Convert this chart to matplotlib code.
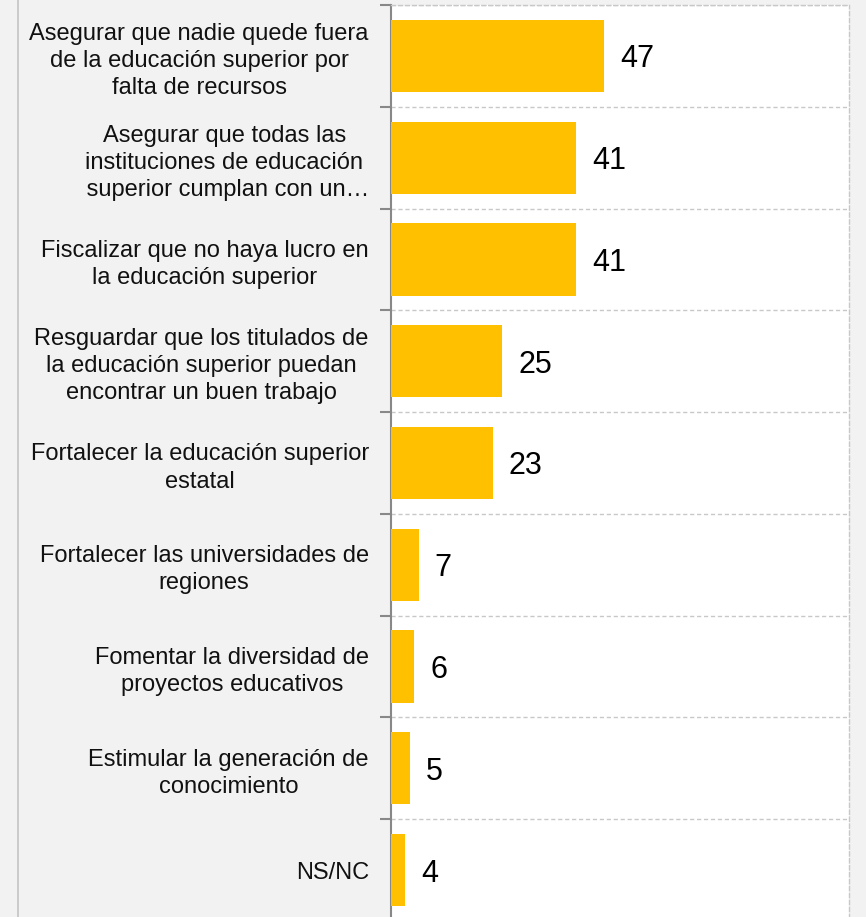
import matplotlib
matplotlib.use("Agg")
import matplotlib.pyplot as plt
from matplotlib.lines import Line2D

categories = [
    "Asegurar que nadie quede fuera\nde la educación superior por\nfalta de recursos",
    "Asegurar que todas las\ninstituciones de educación\n superior cumplan con un…",
    "Fiscalizar que no haya lucro en\nla educación superior",
    "Resguardar que los titulados de\nla educación superior puedan\nencontrar un buen trabajo",
    "Fortalecer la educación superior\nestatal",
    "Fortalecer las universidades de\nregiones",
    "Fomentar la diversidad de\nproyectos educativos",
    "Estimular la generación de\nconocimiento",
    "NS/NC",
]
values = [47, 41, 41, 25, 23, 7, 6, 5, 4]

plt.rcParams['font.family'] = ['Liberation Sans', 'DejaVu Sans']

W, H = 866, 917
fig = plt.figure(figsize=(W / 100, H / 100), dpi=100)
fig.patch.set_facecolor('#f2f2f2')

# thin frame line on the far left
fig.add_artist(Line2D([17.5 / W, 17.5 / W], [0, 1], color='#c4c4c4', linewidth=1.2))

left, right, top, bottom = 391, 849, 5, 921
ax = fig.add_axes([left / W, 1 - bottom / H, (right - left) / W, (bottom - top) / H])
ax.set_facecolor('white')

ypos = list(range(len(values)))
ax.barh(ypos, values, height=0.71, color='#FFC000', zorder=3)
ax.set_xlim(1, 100)
ax.set_ylim(len(values) - 0.5, -0.5)

for y, v in zip(ypos, values):
    ax.annotate(str(v), xy=(v, y), xytext=(11.5, -2.5), textcoords='offset points',
                va='center', ha='left', fontsize=22, color='black', zorder=4)

ax.set_yticks(ypos)
ax.set_yticklabels(categories, fontsize=17, multialignment='center', linespacing=1.3,
                   color='#111111')
ax.tick_params(axis='y', which='major', length=0, pad=16)
ax.set_yticks([i - 0.5 for i in range(len(values) + 1)], minor=True)
ax.tick_params(axis='y', which='minor', length=8, width=1.5, color='#888888', direction='out')
ax.set_xticks([])
ax.grid(axis='y', which='minor', linestyle=(0, (3, 2)), color='#c8c8c8', linewidth=1, zorder=1)

for s in ['top', 'right', 'bottom']:
    ax.spines[s].set_linestyle((0, (3, 2)))
    ax.spines[s].set_color('#c8c8c8')
    ax.spines[s].set_linewidth(1)
ax.spines['left'].set_color('#888888')
ax.spines['left'].set_linewidth(1.5)

fig.savefig('out.png', dpi=100, facecolor=fig.get_facecolor())
